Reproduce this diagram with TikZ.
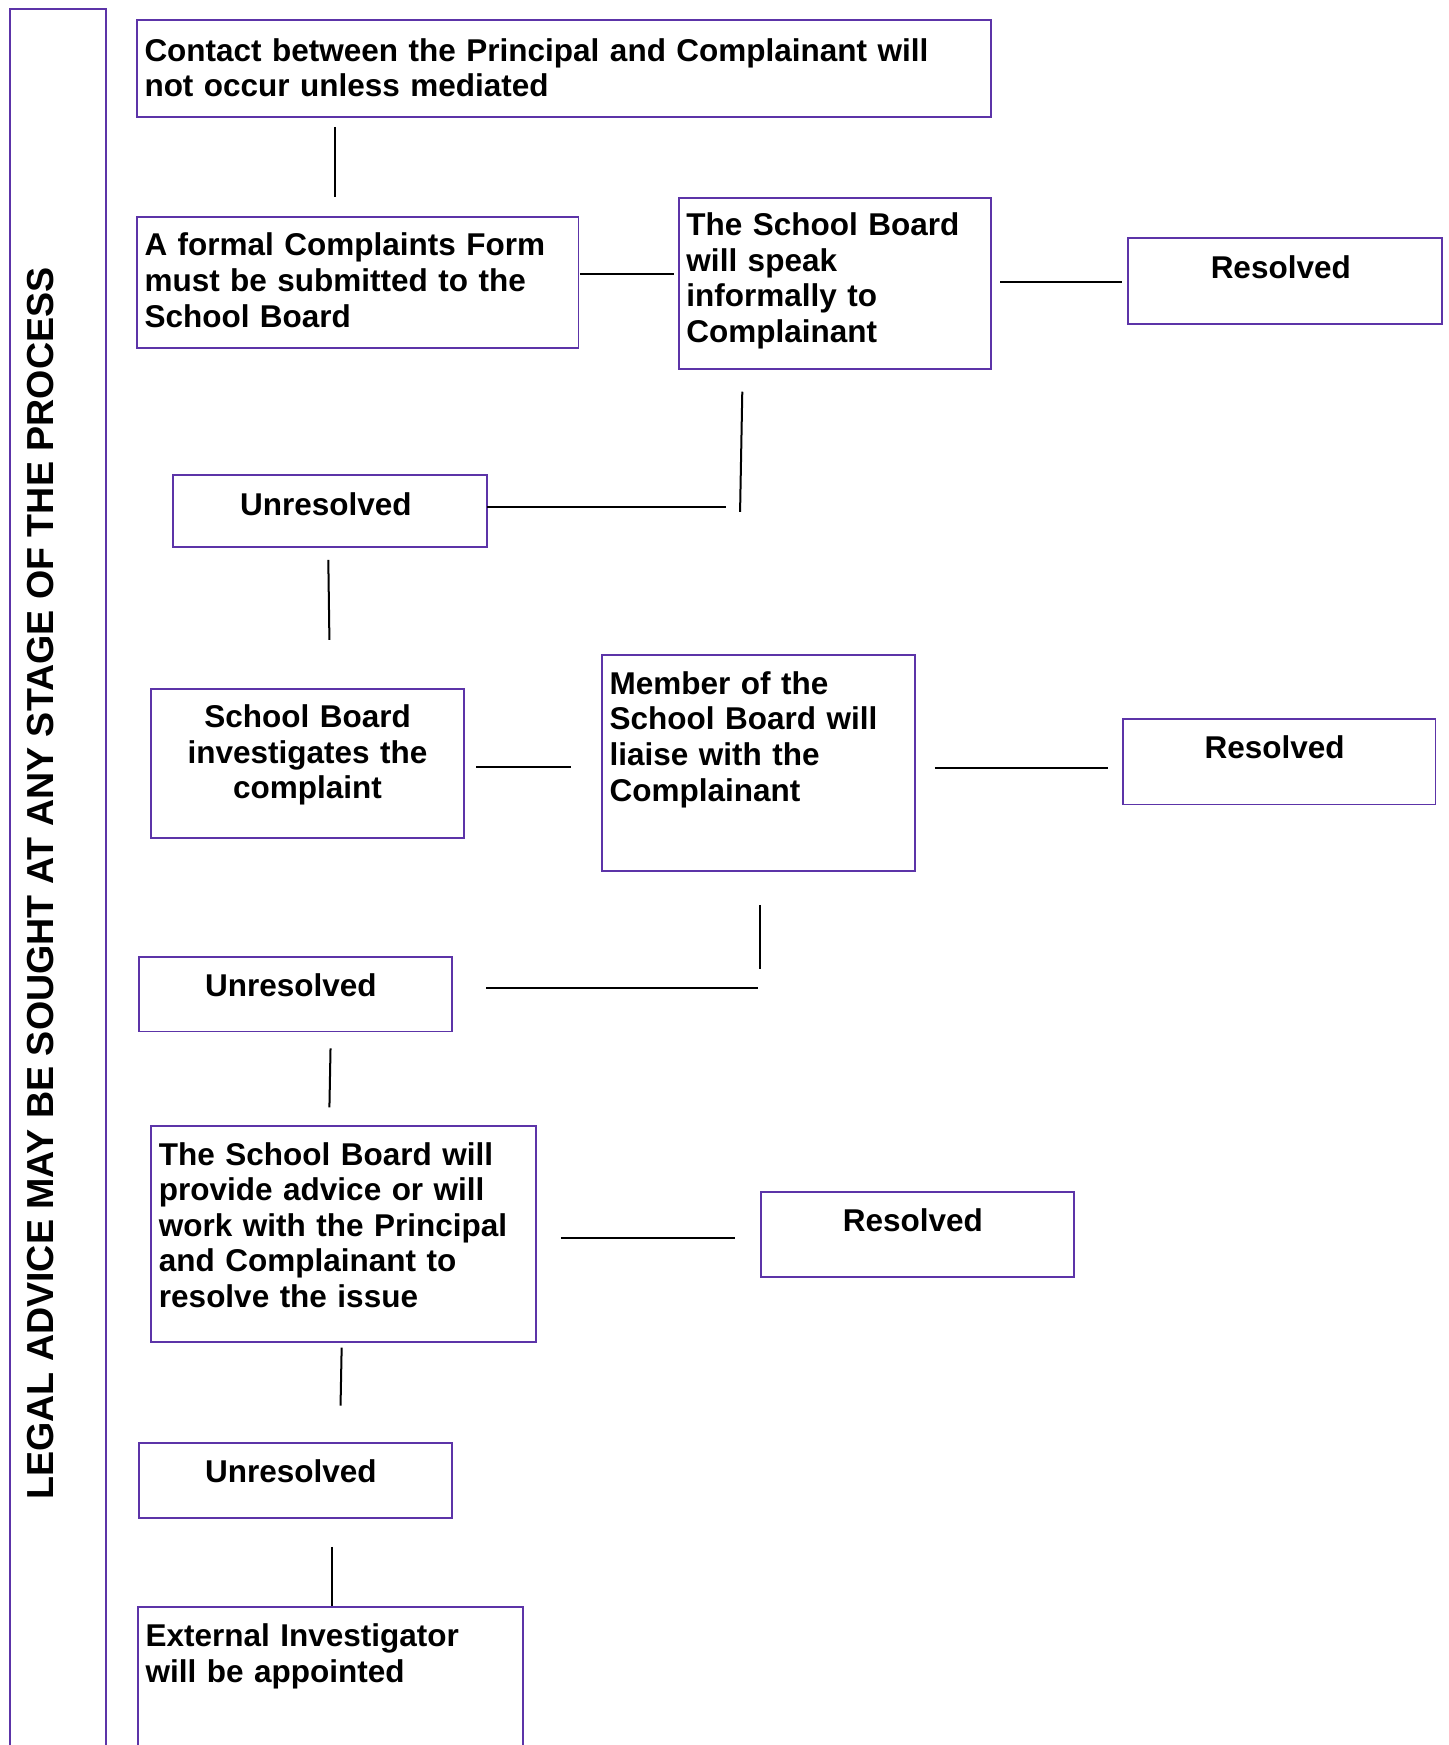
\documentclass[tikz,border=0pt]{standalone}
\usepackage{fontspec}
\setmainfont{Liberation Sans}
\definecolor{boxpurple}{RGB}{92,52,168}
\newcommand\fsz{\fontsize{14.15pt}{16pt}\selectfont\bfseries}
\newcommand\lsh[1]{\mbox{#1\kern4pt}}
\tikzset{
  box/.style={draw=boxpurple, line width=0.85pt, anchor=north west, inner xsep=3.5pt, inner ysep=0pt, font=\fsz, align=left},
  cbox/.style={box, align=center},
  conn/.style={draw=black, line width=0.9pt},
}
\begin{document}
\begin{tikzpicture}[x=0.5pt,y=-0.5pt]
\useasboundingbox (0,0) rectangle (1302,1568);
\fill[white] (0,0) rectangle (1302,1568);

% left frame with vertical text
\node[draw=boxpurple, line width=0.85pt, anchor=north west, inner sep=0pt, minimum width=43pt, minimum height=786.5pt] (frame) at (8,7) {};
\node[font=\fontsize{16.9pt}{18pt}\selectfont\bfseries, rotate=90, anchor=base, inner sep=0pt] (legal) at (48,794) {LEGAL ADVICE MAY BE SOUGHT AT ANY STAGE OF THE PROCESS};

% boxes
\node[box, text width=377pt, text height=18.5pt, text depth=25pt] (b1) at (122,17) {Contact between the Principal and Complainant will\\not occur unless mediated};
\node[box, text width=191.5pt, text height=17.5pt, text depth=41.5pt] (b2) at (122,194) {A formal Complaints Form\\must be submitted to the\\School Board};
\node[box, text width=133.5pt, text height=17pt, text depth=60pt] (b3) at (609,177) {The School Board\\will speak\\informally to\\Complainant};
\node[cbox, text width=134pt, text height=18pt, text depth=20.5pt] (r1) at (1013,213) {\lsh{Resolved}};
\node[cbox, text width=134pt, text height=18pt, text depth=14.5pt] (u1) at (155,426) {\lsh{Unresolved}};
\node[cbox, text width=133.5pt, text height=17.5pt, text depth=49.5pt] (b6) at (135,618) {School Board\\investigates the\\complaint};
\node[box, text width=133.5pt, text height=17.5pt, text depth=79.5pt] (b7) at (540,588) {Member of the\\School Board will\\liaise with the\\Complainant};
\node[cbox, text width=133.5pt, text height=18pt, text depth=20.5pt] (r2) at (1008,645) {\lsh{Resolved}};
\node[cbox, text width=133.5pt, text height=18pt, text depth=15.5pt] (u2) at (124,859) {\lsh{Unresolved}};
\node[box, text width=166pt, text height=17.5pt, text depth=79.5pt] (b10) at (135,1011) {The School Board will\\provide advice or will\\work with the Principal\\and Complainant to\\resolve the issue};
\node[cbox, text width=133.5pt, text height=18pt, text depth=20.5pt] (r3) at (683,1070) {\lsh{Resolved}};
\node[cbox, text width=133.5pt, text height=17.5pt, text depth=16pt] (u3) at (124,1296) {\lsh{Unresolved}};
\node[box, text width=166pt, text height=18pt, text depth=50.5pt] (b13) at (123,1443) {External Investigator\\will be appointed};

% connector end points
\coordinate (l1a) at (301,114);  \coordinate (l1b) at (301,177);
\coordinate (l2a) at (521,246);  \coordinate (l2b) at (606,246);
\coordinate (l3a) at (899,253);  \coordinate (l3b) at (1008,253);
\coordinate (l4a) at (667,352);  \coordinate (l4b) at (665,460);
\coordinate (l5a) at (438,456);  \coordinate (l5b) at (652,456);
\coordinate (l6a) at (295,503);  \coordinate (l6b) at (296,575);
\coordinate (l7a) at (428,689);  \coordinate (l7b) at (513,689);
\coordinate (l8a) at (840,690);  \coordinate (l8b) at (996,690);
\coordinate (l9a) at (683,813);  \coordinate (l9b) at (683,871);
\coordinate (l10a) at (437,888); \coordinate (l10b) at (681,888);
\coordinate (l11a) at (297,942); \coordinate (l11b) at (296,995);
\coordinate (l12a) at (504,1112); \coordinate (l12b) at (660,1112);
\coordinate (l13a) at (307,1211); \coordinate (l13b) at (306,1263);
\coordinate (l14a) at (298,1390);

\draw[conn] (l1a) -- (l1b);
\draw[conn] (l2a) -- (l2b);
\draw[conn] (l3a) -- (l3b);
\draw[conn] (l4a) -- (l4b);
\draw[conn] (l5a) -- (l5b);
\draw[conn] (l6a) -- (l6b);
\draw[conn] (l7a) -- (l7b);
\draw[conn] (l8a) -- (l8b);
\draw[conn] (l9a) -- (l9b);
\draw[conn] (l10a) -- (l10b);
\draw[conn] (l11a) -- (l11b);
\draw[conn] (l12a) -- (l12b);
\draw[conn] (l13a) -- (l13b);
\draw[conn] (l14a) -- (l14a |- b13.north);
\end{tikzpicture}
\end{document}
